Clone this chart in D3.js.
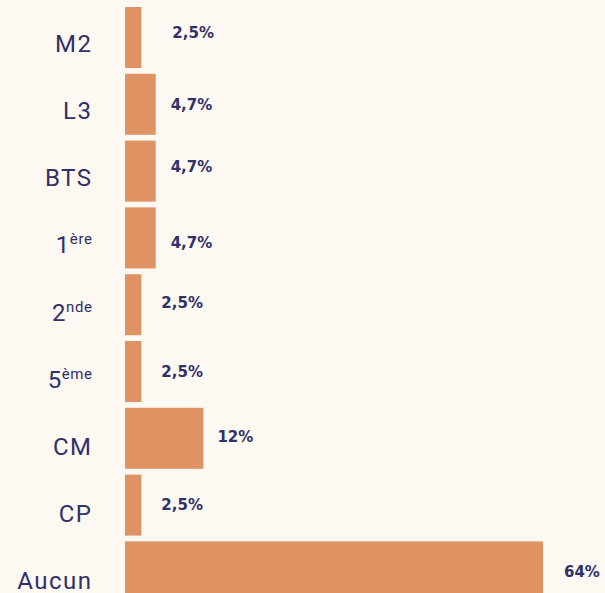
<!DOCTYPE html>
<html>
<head>
<meta charset="utf-8">
<script src="https://cdn.jsdelivr.net/npm/d3@7"></script>
<style>
  html, body { margin: 0; padding: 0; background: #fdf8f1; }
  #chart { width: 605px; height: 593px; overflow: hidden; }
</style>
</head>
<body>
<div id="chart"></div>
<script>
// Diplôme le plus élevé (share of respondents)
const levels = ["M2", "L3", "BTS", "1ère", "2nde", "5ème", "CM", "CP", "Aucun"];
const levelBase = ["M2", "L3", "BTS", "1", "2", "5", "CM", "CP", "Aucun"];
const levelSup = ["", "", "", "ère", "nde", "ème", "", "", ""];
const shares = [2.5, 4.7, 4.7, 4.7, 2.5, 2.5, 12, 2.5, 64];
const shareLabels = ["2,5%", "4,7%", "4,7%", "4,7%", "2,5%", "2,5%", "12%", "2,5%", "64%"];

// small per-label nudges (layout only)
const labelDx = [31, 15, 15, 15, 20, 20, 14, 20, 21];
const labelDy = [0, 6, 1, 10, 3, 5, 4, 5, 5];

const barColor = "#df9262";
const textColor = "#2f3168";

const width = 605;
const height = 593;

const svg = d3.select("#chart").append("svg")
    .attr("width", width)
    .attr("height", height);

svg.append("rect")
    .attr("width", width)
    .attr("height", height)
    .attr("fill", "#fdf8f1");

const xScale = d3.scaleLinear()
    .domain([0, 64])
    .range([125, 543]);

const yScale = d3.scaleBand()
    .domain(levels)
    .range([4.1, 605.3])
    .paddingInner(0.087)
    .paddingOuter(0.0435);

const rows = levels.map((l, i) => ({
    level: l, base: levelBase[i], sup: levelSup[i],
    value: shares[i], label: shareLabels[i],
    dx: labelDx[i], dy: labelDy[i]
}));

// Bars
svg.append("g")
    .selectAll("rect")
    .data(rows)
    .enter()
    .append("rect")
    .attr("x", xScale(0))
    .attr("y", d => yScale(d.level))
    .attr("width", d => xScale(d.value) - xScale(0))
    .attr("height", yScale.bandwidth())
    .attr("fill", barColor);

// Category labels
const cats = svg.append("g")
    .selectAll("text")
    .data(rows)
    .enter()
    .append("text")
    .attr("x", 92.5)
    .attr("y", (d, i) => yScale(d.level) + yScale.bandwidth() / 2 + 14.5 + i * 0.35)
    .attr("text-anchor", "end")
    .attr("fill", textColor)
    .style("font-family", "Roboto, 'Noto Sans', sans-serif")
    .style("font-size", "24px");

cats.append("tspan")
    .style("letter-spacing", d => d.sup === "" ? "1.5px" : "0.5px")
    .text(d => d.base);
cats.filter(d => d.sup !== "")
    .append("tspan")
    .attr("dy", -9)
    .style("font-size", "15px")
    .style("letter-spacing", "0.6px")
    .text(d => d.sup);

// Value labels
svg.append("g")
    .selectAll("text")
    .data(rows)
    .enter()
    .append("text")
    .attr("x", d => xScale(d.value) + d.dx)
    .attr("y", d => yScale(d.level) + yScale.bandwidth() / 2 + d.dy)
    .attr("fill", textColor)
    .style("font-family", "'DejaVu Sans', sans-serif")
    .style("font-weight", "bold")
    .style("font-size", "15px")
    .text(d => d.label);
</script>
</body>
</html>
